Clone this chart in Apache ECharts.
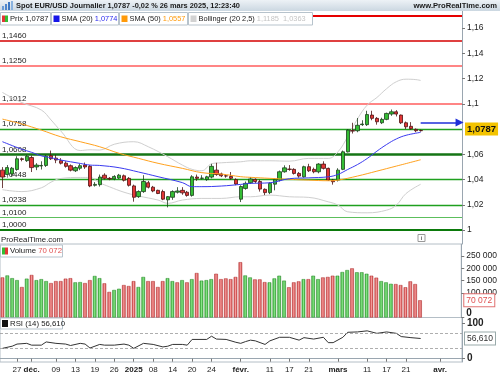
<!DOCTYPE html>
<html><head><meta charset="utf-8">
<script src="https://cdn.jsdelivr.net/npm/echarts@6/dist/echarts.min.js"></script>
<style>html,body{margin:0;padding:0;background:#fff}#c{width:500px;height:375px}</style>
</head><body><div id="c"></div>
<script>
// ---------- data ----------
const dates = [
'2024-11-22','2024-11-25','2024-11-26','2024-11-27','2024-11-28','2024-11-29',
'2024-12-02','2024-12-03','2024-12-04','2024-12-05','2024-12-06',
'2024-12-09','2024-12-10','2024-12-11','2024-12-12','2024-12-13',
'2024-12-16','2024-12-17','2024-12-18','2024-12-19','2024-12-20',
'2024-12-23','2024-12-24','2024-12-26','2024-12-27','2024-12-30','2024-12-31',
'2025-01-02','2025-01-03','2025-01-06','2025-01-07','2025-01-08','2025-01-09','2025-01-10',
'2025-01-13','2025-01-14','2025-01-15','2025-01-16','2025-01-17',
'2025-01-20','2025-01-21','2025-01-22','2025-01-23','2025-01-24',
'2025-01-27','2025-01-28','2025-01-29','2025-01-30','2025-01-31',
'2025-02-03','2025-02-04','2025-02-05','2025-02-06','2025-02-07',
'2025-02-10','2025-02-11','2025-02-12','2025-02-13','2025-02-14',
'2025-02-17','2025-02-18','2025-02-19','2025-02-20','2025-02-21',
'2025-02-24','2025-02-25','2025-02-26','2025-02-27','2025-02-28',
'2025-03-03','2025-03-04','2025-03-05','2025-03-06','2025-03-07',
'2025-03-10','2025-03-11','2025-03-12','2025-03-13','2025-03-14',
'2025-03-17','2025-03-18','2025-03-19','2025-03-20','2025-03-21',
'2025-03-24','2025-03-25','2025-03-26','2025-03-27','2025-03-28','2025-03-31',
'2025-04-01','2025-04-02','2025-04-03','2025-04-04','2025-04-07'];

const opens = [1.0475,1.0440,1.0445,1.0480,1.0565,1.0550,1.0575,1.0500,1.0508,1.0512,
1.0590,1.0570,1.0550,1.0530,1.0510,1.0470,1.0490,1.0515,1.0505,1.0355,
1.0360,1.0435,1.0410,1.0405,1.0412,1.0430,1.0410,1.0350,1.0265,1.0305,
1.0375,1.0340,1.0315,1.0305,1.0240,1.0260,1.0300,1.0315,1.0300,1.0275,
1.0420,1.0410,1.0400,1.0420,1.0475,1.0445,1.0430,1.0425,1.0400,1.0245,
1.0330,1.0375,1.0402,1.0385,1.0323,1.0297,1.0364,1.0396,1.0462,1.0483,
1.0481,1.0449,1.0422,1.0502,1.0481,1.0462,1.0523,1.0489,1.0396,1.0396,
1.0481,1.0620,1.0788,1.0787,1.0835,1.0835,1.0911,1.0885,1.0850,1.0877,
1.0919,1.0937,1.0911,1.0850,1.0822,1.0798,1.0789];
const closes = [1.0420,1.0495,1.0490,1.0565,1.0560,1.0585,1.0495,1.0515,1.0512,1.0585,
1.0565,1.0555,1.0530,1.0505,1.0475,1.0495,1.0510,1.0500,1.0350,1.0362,
1.0420,1.0410,1.0405,1.0425,1.0435,1.0395,1.0355,1.0260,1.0305,1.0385,
1.0340,1.0310,1.0290,1.0245,1.0265,1.0305,1.0310,1.0295,1.0275,1.0422,
1.0410,1.0412,1.0422,1.0505,1.0440,1.0430,1.0428,1.0410,1.0365,1.0345,
1.0370,1.0405,1.0385,1.0325,1.0297,1.0370,1.0402,1.0462,1.0493,1.0481,
1.0449,1.0428,1.0502,1.0470,1.0462,1.0523,1.0489,1.0396,1.0383,1.0475,
1.0620,1.0792,1.0784,1.0830,1.0840,1.0915,1.0885,1.0858,1.0877,1.0924,
1.0937,1.0919,1.0850,1.0818,1.0803,1.0787,1.0787];
const lows = [1.0333,1.0430,1.0425,1.0470,1.0545,1.0540,1.0460,1.0475,1.0480,1.0500,
1.0555,1.0530,1.0520,1.0495,1.0465,1.0460,1.0475,1.0485,1.0340,1.0345,
1.0345,1.0400,1.0395,1.0395,1.0405,1.0385,1.0345,1.0225,1.0255,1.0295,
1.0330,1.0300,1.0285,1.0237,1.0180,1.0240,1.0290,1.0280,1.0265,1.0265,
1.0390,1.0400,1.0390,1.0410,1.0430,1.0420,1.0415,1.0400,1.0355,1.0222,
1.0320,1.0365,1.0370,1.0305,1.0277,1.0285,1.0315,1.0385,1.0455,1.0470,
1.0440,1.0415,1.0415,1.0460,1.0450,1.0450,1.0480,1.0390,1.0360,1.0385,
1.0475,1.0615,1.0765,1.0775,1.0825,1.0825,1.0870,1.0835,1.0840,1.0870,
1.0905,1.0900,1.0840,1.0800,1.0795,1.0775,1.0780];
const highs = [1.0499,1.0515,1.0500,1.0585,1.0575,1.0596,1.0590,1.0530,1.0545,1.0595,
1.0630,1.0595,1.0570,1.0545,1.0520,1.0505,1.0525,1.0535,1.0515,1.0380,
1.0440,1.0450,1.0420,1.0435,1.0445,1.0440,1.0420,1.0360,1.0315,1.0435,
1.0390,1.0350,1.0320,1.0320,1.0270,1.0315,1.0340,1.0340,1.0310,1.0435,
1.0440,1.0435,1.0430,1.0525,1.0533,1.0455,1.0440,1.0460,1.0410,1.0355,
1.0385,1.0420,1.0410,1.0400,1.0330,1.0380,1.0410,1.0472,1.0513,1.0515,
1.0490,1.0460,1.0510,1.0525,1.0495,1.0530,1.0545,1.0495,1.0405,1.0490,
1.0630,1.0800,1.0850,1.0888,1.0870,1.0945,1.0945,1.0895,1.0890,1.0930,
1.0955,1.0950,1.0915,1.0860,1.0855,1.0805,1.0796];

const volumes = [163000,171000,160000,152000,124000,158000,173000,152000,156000,148000,
140000,148000,148000,158000,160000,143000,144000,140000,152000,169000,
160000,139000,104000,112000,117000,132000,128000,148000,124000,165000,
148000,148000,124000,148000,160000,148000,143000,152000,143000,156000,
181000,150000,152000,156000,178000,156000,159000,156000,165000,225000,
171000,163000,155000,155000,144000,143000,159000,170000,150000,123000,
143000,147000,156000,156000,170000,156000,163000,165000,170000,170000,
185000,193000,200000,184000,184000,178000,170000,162000,148000,143000,
137000,136000,132000,123000,147000,136000,70072];
const volUp = [0,1,1,1,0,1,0,1,1,1, 0,0,0,0,0,1,1,0,0,1, 1,0,0,1,1,0,0,0,1,1,
0,0,0,0,1,1,0,1,0,1, 0,1,1,1,0,0,0,0,0,0, 1,1,0,0,0,1,1,1,1,0,
0,0,1,0,1,1,0,0,0,1, 1,1,0,1,1,1,0,0,1,1, 1,0,0,0,0,0,0];

const sma20At = [0,4,6,8,10,12,16,18,20,24,28,32,37,39,41,45,49,51,55,59,63,67,69,71,73,75,77,79,81,83,86];
const sma20 = [1.0700,1.0640,1.0616,1.0588,1.0573,1.0555,1.0528,1.0515,1.0512,1.0494,1.0460,1.0423,1.0376,1.0344,1.0344,1.0349,1.0362,1.0370,1.0375,1.0407,1.0414,1.0422,1.0441,1.0480,1.0519,1.0567,1.0625,1.0678,1.0722,1.0751,1.0774];
const sma50At = [0,4,8,12,16,20,24,28,32,37,41,45,49,51,55,59,63,67,69,73,77,81,86];
const sma50 = [1.0879,1.0840,1.0792,1.0739,1.0700,1.0660,1.0608,1.0568,1.0529,1.0489,1.0455,1.0444,1.0423,1.0418,1.0410,1.0402,1.0396,1.0391,1.0396,1.0428,1.0467,1.0507,1.0557];
const bollUpAt = [0,4,8,10,12,16,18,20,23,27,30,34,37,39,41,43,45,49,51,55,59,63,67,69,71,73,75,77,79,81,83,85,86];
const bollUp = [1.1090,1.1010,1.0951,1.0872,1.0785,1.0630,1.0636,1.0634,1.0680,1.0700,1.0660,1.0581,1.0515,1.0481,1.0470,1.0525,1.0533,1.0541,1.0549,1.0549,1.0546,1.0568,1.0568,1.0620,1.0740,1.0880,1.0990,1.1050,1.1120,1.1175,1.1195,1.1192,1.1185];
const bollLowAt = [0,4,8,10,12,16,18,20,22,25,28,32,34,37,41,45,49,51,55,59,63,67,69,71,75,79,81,83,86];
const bollLow = [1.0320,1.0305,1.0335,1.0380,1.0409,1.0417,1.0417,1.0375,1.0343,1.0300,1.0270,1.0238,1.0212,1.0238,1.0251,1.0251,1.0264,1.0264,1.0277,1.0264,1.0259,1.0224,1.0198,1.0145,1.0137,1.0158,1.0198,1.0290,1.0363];

const rsiAt = [0,2,3,5,6,8,9,11,13,14,16,17,18,20,21,23,25,26,27,29,31,33,34,35,37,38,39,42,43,44,46,47,48,49,50,51,52,54,55,57,59,61,62,64,66,67,68,70,71,73,75,77,79,81,82,84,86];
const rsi = [29,35,41,43,38,38,47,43,41,37,43,41,30,40,38,38,41,38,29,43,40,33,35,40,40,38,54,54,63,55,54,50,46,43,48,52,50,40,50,60,60,52,59,55,60,45,45,60,74,75,78,71,75,71,62,59,56.61];

const levels = [1.1679,1.1460,1.1250,1.1012,1.0758,1.0608,1.0448,1.0238,1.0100,1.0000];
const levelLabels = ['','1,1460','1,1250','1,1012','1,0758','1,0608','1,0448','1,0238','1,0100','1,0000'];

const priceTicks = [1.00,1.02,1.04,1.06,1.10,1.12,1.14,1.16];
const volTicks = [0,50000,100000,150000,200000,250000];
const rsiTicks = [0,100];
const rsiBands = [30,70];

const xTickDates = ['2024-11-27','2024-12-02','2024-12-09','2024-12-13','2024-12-19','2024-12-26','2025-01-02','2025-01-08','2025-01-14','2025-01-20','2025-01-24','2025-02-03','2025-02-11','2025-02-17','2025-02-21','2025-03-03','2025-03-11','2025-03-17','2025-03-21','2025-04-01'];
const xTickLabels = ['27','déc.','09','13','19','26','2025','08','14','20','24','févr.','11','17','21','mars','11','17','21','avr.'];
const xTickBold = ['déc.','2025','févr.','mars','avr.'];

const lastPrice = 1.0787, lastVolume = 70072, lastRsi = 56.61;
const arrowLevel = 1.0853, arrowFrom = '2025-03-26', arrowTo = '2025-04-07';

// ---------- styles ----------
const levelStyles = [
 {c:'#e60000',w:2},{c:'#d40000',w:1.5},{c:'#ff5c5c',w:1.5},{c:'#ff5c5c',w:1.5},
 {c:'#1fa01f',w:1.3},{c:'#157515',w:2.6},{c:'#1fa01f',w:1.3},{c:'#1fa01f',w:1.3},
 {c:'#5cbf5c',w:1},{c:'#0b7a0b',w:2.2}];
const FONT = '"Liberation Sans", Arial, sans-serif';
const NOLINE = {color: 'rgba(0,0,0,0)', width: 1};
const fmtPrice = v => String(+(+v).toFixed(2)).replace('.', ',');
const fmtVal = (v, d) => (+v).toFixed(d).replace('.', ',');
const fmtVol = v => String(Math.round(v)).replace(/\B(?=(\d{3})+(?!\d))/g, ' ');
const pairs = (at, vals) => at.map((k, j) => [k, vals[j]]);

const chart = echarts.init(document.getElementById('c'), null, {renderer: 'canvas'});
const G = echarts.graphic;
const volGreen = new G.LinearGradient(0,0,1,0,[{offset:0,color:'#2f9f2f'},{offset:0.5,color:'#86e686'},{offset:1,color:'#2f9f2f'}]);
const volRed = new G.LinearGradient(0,0,1,0,[{offset:0,color:'#c43a3a'},{offset:0.5,color:'#f59a9a'},{offset:1,color:'#c43a3a'}]);

const axisCommonY = {
  position: 'right',
  axisLine: {show: true, lineStyle: {color: '#9aa6b0', width: 1}},
  axisTick: {show: true, length: 3, lineStyle: {color: '#777'}},
  splitLine: {show: false},
  axisLabel: {color: '#222', fontSize: 8.5, fontFamily: FONT, margin: 5, showMinLabel: true, showMaxLabel: true}
};
const catAxis = (gi, showLabels) => ({
  type: 'category', gridIndex: gi, data: dates, boundaryGap: true,
  axisLine: {show: showLabels, lineStyle: {color: '#9aa6b0'}},
  axisTick: {show: showLabels, length: 3, alignWithLabel: true, interval: (i, v) => xTickDates.includes(v), lineStyle: {color: '#777'}},
  axisLabel: {show: showLabels, interval: (i, v) => xTickDates.includes(v), color: '#222', fontSize: 8, fontFamily: FONT, margin: 4,
    formatter: v => { const t = xTickLabels[xTickDates.indexOf(v)]; return xTickBold.includes(t) ? '{b|' + t + '}' : t; },
    rich: {b: {fontWeight: 'bold', fontSize: 8, fontFamily: FONT, color: '#222'}}},
  splitLine: {show: false}
});
const valueBox = (txt, color, border, bg, bold) => ({
  position: 'end', formatter: txt, color: color, fontSize: bold ? 9.5 : 8.5, fontWeight: bold ? 'bold' : 'normal', fontFamily: FONT,
  backgroundColor: bg, borderColor: border, borderWidth: border ? 1 : 0, padding: [2, 2, 1, 2], distance: 3
});

const option = {
  animation: false,
  backgroundColor: '#fff',
  grid: [
    {left: 0, right: 38, top: 10, height: 234},
    {left: 0, right: 38, top: 244, height: 73.5, show: true, borderColor: '#b4bec6', borderWidth: 1},
    {left: 0, right: 38, top: 317.5, height: 44.5, show: true, borderColor: '#b4bec6', borderWidth: 1}
  ],
  xAxis: [catAxis(0, false), catAxis(1, false), catAxis(2, true)],
  yAxis: [
    Object.assign({}, axisCommonY, {type: 'value', gridIndex: 0, min: 0.989, max: 1.1743,
      axisLabel: Object.assign({}, axisCommonY.axisLabel, {customValues: priceTicks, formatter: fmtPrice}),
      axisTick: Object.assign({}, axisCommonY.axisTick, {customValues: priceTicks})}),
    Object.assign({}, axisCommonY, {type: 'value', gridIndex: 1, min: 0, max: 299000,
      axisLabel: Object.assign({}, axisCommonY.axisLabel, {customValues: volTicks,
        formatter: v => v === 0 ? '{z|0}\n{e| }' : fmtVol(v),
        rich: {z: {fontWeight: 'bold', fontSize: 10, fontFamily: FONT, color: '#222', lineHeight: 11}, e: {fontSize: 6, lineHeight: 9}}}),
      axisTick: Object.assign({}, axisCommonY.axisTick, {customValues: volTicks})}),
    Object.assign({}, axisCommonY, {type: 'value', gridIndex: 2, min: -9.2, max: 115.4,
      axisLabel: Object.assign({}, axisCommonY.axisLabel, {customValues: rsiTicks, fontWeight: 'bold', fontSize: 10}),
      axisTick: Object.assign({}, axisCommonY.axisTick, {customValues: rsiTicks})})
  ],
  series: [
    {type: 'line', xAxisIndex: 0, yAxisIndex: 0, data: pairs(bollUpAt, bollUp), smooth: 0.4, symbol: 'none',
     lineStyle: {color: '#cfcfcf', width: 1}, silent: true, z: 1},
    {type: 'line', xAxisIndex: 0, yAxisIndex: 0, data: pairs(bollLowAt, bollLow), smooth: 0.4, symbol: 'none',
     lineStyle: {color: '#cfcfcf', width: 1}, silent: true, z: 1},
    {type: 'line', xAxisIndex: 0, yAxisIndex: 0, data: pairs(sma50At, sma50), smooth: 0.4, symbol: 'none',
     lineStyle: {color: '#ffa21f', width: 1}, silent: true, z: 3},
    {type: 'line', xAxisIndex: 0, yAxisIndex: 0, data: pairs(sma20At, sma20), smooth: 0.4, symbol: 'none',
     lineStyle: {color: '#3a3af0', width: 1}, silent: true, z: 3},
    {type: 'candlestick', xAxisIndex: 0, yAxisIndex: 0, barWidth: 3.8, z: 2,
     data: opens.map((o, i) => [o, closes[i], lows[i], highs[i]]),
     itemStyle: {color: '#34bd34', color0: '#e23636', borderColor: '#1c3f1c', borderColor0: '#4d1212', borderWidth: 0.8},
     markLine: {silent: true, symbol: ['none', 'none'], animation: false, z: 1,
       label: {position: 'insideStartTop', color: '#222', fontSize: 8, fontFamily: FONT, distance: [2, 1]},
       data: levels.map((v, k) => ({yAxis: v, lineStyle: {color: levelStyles[k].c, width: levelStyles[k].w, type: 'solid', opacity: 1},
         label: {formatter: levelLabels[k]}}))}},
    {type: 'line', xAxisIndex: 0, yAxisIndex: 0, data: [], z: 6,
     markLine: {silent: true, animation: false, symbol: ['none', 'none'],
       data: [
         [{coord: [arrowFrom, arrowLevel], symbol: 'none'},
          {coord: [arrowTo, arrowLevel], symbol: 'triangle', symbolSize: 8, symbolRotate: -90,
           lineStyle: {color: '#1f2fd8', width: 1.5, type: 'solid'}, label: {show: false}}],
         {yAxis: lastPrice, lineStyle: NOLINE, label: valueBox(fmtVal(lastPrice, 4), '#111', null, '#f3c300', true)}
       ]}},
    {type: 'bar', xAxisIndex: 1, yAxisIndex: 1, barWidth: 3.6,
     data: volumes.map((v, i) => ({value: v, itemStyle: {color: volUp[i] ? volGreen : volRed,
       borderColor: volUp[i] ? '#2a8a2a' : '#b03030', borderWidth: 0.5}})),
     markLine: {silent: true, symbol: ['none', 'none'], animation: false,
       data: [{yAxis: lastVolume, lineStyle: NOLINE, label: valueBox(fmtVol(lastVolume), '#e05050', '#e07070', '#fff', false)}]}},
    {type: 'line', xAxisIndex: 2, yAxisIndex: 2, data: pairs(rsiAt, rsi), symbol: 'none',
     lineStyle: {color: '#333', width: 1},
     markLine: {silent: true, symbol: ['none', 'none'], animation: false,
       data: rsiBands.map(v => ({yAxis: v, lineStyle: {color: '#999', width: 0.8, type: [3, 2]}, label: {show: false}})).concat([
         {yAxis: lastRsi, lineStyle: NOLINE, label: valueBox(fmtVal(lastRsi, 3), '#333', '#9aa', '#fff', false)}])}}
  ],
  graphic: [
    {type: 'rect', shape: {x: 0, y: 0, width: 500, height: 11}, z: 100,
     style: {fill: new G.LinearGradient(0, 0, 0, 1, [{offset: 0, color: '#edf2f6'}, {offset: 1, color: '#cbd7e1'}])}},
    {type: 'rect', shape: {x: 2, y: 6, width: 2, height: 4}, z: 101, style: {fill: '#6a9bd6'}},
    {type: 'rect', shape: {x: 5, y: 4, width: 2, height: 6}, z: 101, style: {fill: '#4f86cc'}},
    {type: 'rect', shape: {x: 8, y: 2, width: 2, height: 8}, z: 101, style: {fill: '#3d77c2'}},
    {type: 'rect', shape: {x: 11, y: 1, width: 2, height: 9}, z: 101, style: {fill: '#8ab3e0'}},
    {type: 'text', x: 16, y: 6, z: 101, style: {text: 'Spot EUR/USD Journalier 1,0787 -0,02 % 26 mars 2025, 12:23:40',
      font: 'bold 7.4px ' + FONT, fill: '#1a1a1a', verticalAlign: 'middle'}},
    {type: 'text', x: 497, y: 6, z: 101, style: {text: 'www.ProRealTime.com', font: 'bold 7.6px ' + FONT, fill: '#1a1a1a', align: 'right', verticalAlign: 'middle'}},
    // legend boxes
    {type: 'rect', shape: {x: 0.5, y: 12.5, width: 50, height: 12.5}, z: 100, style: {fill: '#fff', stroke: '#b7c3cc', lineWidth: 1}},
    {type: 'rect', shape: {x: 2, y: 15.5, width: 3, height: 6.5}, z: 101, style: {fill: '#e23636'}},
    {type: 'rect', shape: {x: 5, y: 15.5, width: 3, height: 6.5}, z: 101, style: {fill: '#34bd34'}},
    {type: 'text', x: 10, y: 19, z: 101, style: {text: 'Prix 1,0787', font: '7.6px ' + FONT, fill: '#1a1a1a', verticalAlign: 'middle'}},
    {type: 'rect', shape: {x: 51.5, y: 12.5, width: 67, height: 12.5}, z: 100, style: {fill: '#fff', stroke: '#b7c3cc', lineWidth: 1}},
    {type: 'rect', shape: {x: 53.5, y: 15.5, width: 6, height: 6.5}, z: 101, style: {fill: '#1515e8'}},
    {type: 'text', x: 61.5, y: 19, z: 101, style: {text: '{a|SMA (20)} {b|1,0774}', font: '7.4px ' + FONT, verticalAlign: 'middle',
      rich: {a: {font: '7.4px ' + FONT, fill: '#1a1a1a'}, b: {font: '7.4px ' + FONT, fill: '#2b2bee'}}}},
    {type: 'rect', shape: {x: 119.5, y: 12.5, width: 68, height: 12.5}, z: 100, style: {fill: '#fff', stroke: '#b7c3cc', lineWidth: 1}},
    {type: 'rect', shape: {x: 121.5, y: 15.5, width: 6, height: 6.5}, z: 101, style: {fill: '#ff9a0a'}},
    {type: 'text', x: 129.5, y: 19, z: 101, style: {text: '{a|SMA (50)} {b|1,0557}', font: '7.4px ' + FONT, verticalAlign: 'middle',
      rich: {a: {font: '7.4px ' + FONT, fill: '#1a1a1a'}, b: {font: '7.4px ' + FONT, fill: '#ff9a0a'}}}},
    {type: 'rect', shape: {x: 188.5, y: 12.5, width: 124, height: 12.5}, z: 100, style: {fill: '#fff', stroke: '#b7c3cc', lineWidth: 1}},
    {type: 'rect', shape: {x: 190.5, y: 15.5, width: 6, height: 6.5}, z: 101, style: {fill: '#d2d2d2'}},
    {type: 'text', x: 198.5, y: 19, z: 101, style: {text: '{a|Bollinger (20 2,5)} {b|1,1185  1,0363}', font: '7.4px ' + FONT, verticalAlign: 'middle',
      rich: {a: {font: '7.4px ' + FONT, fill: '#1a1a1a'}, b: {font: '7.4px ' + FONT, fill: '#c4c4c4'}}}},
    // pane captions
    {type: 'text', x: 1, y: 240, z: 101, style: {text: 'ProRealTime.com', font: '7.8px ' + FONT, fill: '#1a1a1a', verticalAlign: 'middle'}},
    {type: 'rect', shape: {x: 418, y: 234.5, width: 7, height: 7}, z: 101, style: {fill: '#fff', stroke: '#999', lineWidth: 1}},
    {type: 'text', x: 421.5, y: 238.3, z: 102, style: {text: 'i', font: 'bold 6px ' + FONT, fill: '#666', align: 'center', verticalAlign: 'middle'}},
    {type: 'rect', shape: {x: 0.5, y: 245, width: 62, height: 12}, z: 100, style: {fill: '#fff', stroke: '#b7c3cc', lineWidth: 1}},
    {type: 'rect', shape: {x: 2, y: 247.5, width: 3, height: 7}, z: 101, style: {fill: '#34bd34'}},
    {type: 'rect', shape: {x: 5, y: 247.5, width: 3, height: 7}, z: 101, style: {fill: '#e23636'}},
    {type: 'text', x: 10, y: 251, z: 101, style: {text: '{a|Volume} {b|70 072}', font: '7.8px ' + FONT, verticalAlign: 'middle',
      rich: {a: {font: '7.8px ' + FONT, fill: '#1a1a1a'}, b: {font: '7.8px ' + FONT, fill: '#e05050'}}}},
    {type: 'rect', shape: {x: 0.5, y: 318, width: 62, height: 11}, z: 100, style: {fill: '#fff', stroke: '#b7c3cc', lineWidth: 1}},
    {type: 'rect', shape: {x: 2, y: 320, width: 6, height: 7}, z: 101, style: {fill: '#111'}},
    {type: 'text', x: 10, y: 323.5, z: 101, style: {text: 'RSI (14) 56,610', font: '7.8px ' + FONT, fill: '#1a1a1a', verticalAlign: 'middle'}}
  ]
};
chart.setOption(option);
</script>
</body></html>
